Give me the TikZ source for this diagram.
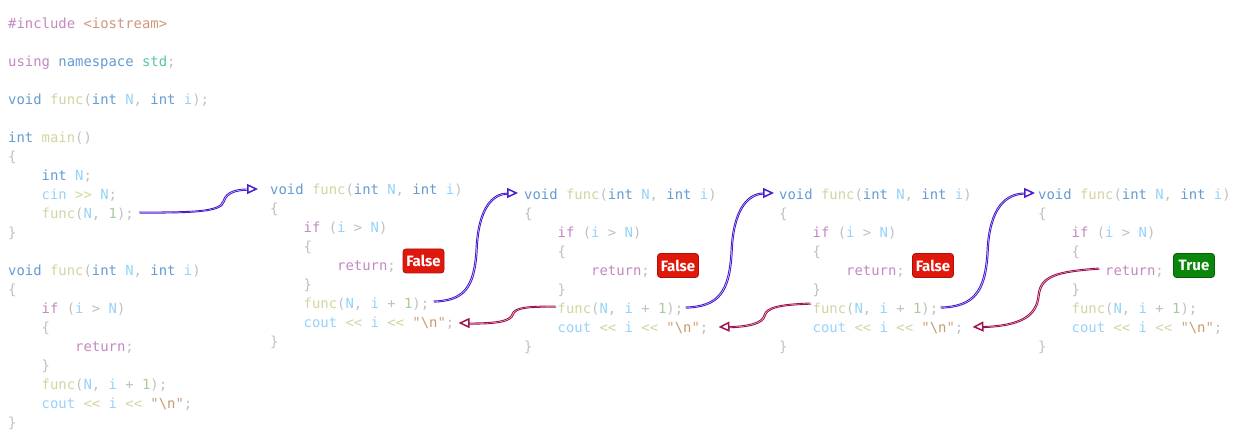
\documentclass[tikz,border=0pt]{standalone}
\usepackage{fontspec}
\setmonofont{DejaVu Sans Mono}
\newfontfamily\badgefont{Fira Sans}
\usetikzlibrary{arrows.meta,calc}
\definecolor{cpurple}{HTML}{C488C2}
\definecolor{cblue}{HTML}{659CD4}
\definecolor{cfunc}{HTML}{D4D4A2}
\definecolor{cvar}{HTML}{96D3FA}
\definecolor{cpunct}{HTML}{C0C0C0}
\definecolor{cstr}{HTML}{D69E7E}
\definecolor{cesc}{HTML}{C49C6C}
\definecolor{cnum}{HTML}{ACCA9C}
\definecolor{cteal}{HTML}{56C6AC}
\definecolor{cinc}{HTML}{D2967C}
\definecolor{arrblue}{HTML}{4A1CCF}
\definecolor{arrred}{HTML}{A01250}
\definecolor{badgered}{HTML}{E0180C}
\definecolor{badgereddk}{HTML}{B01008}
\definecolor{badgegreen}{HTML}{0A870A}
\definecolor{badgegreendk}{HTML}{066006}
\newcommand\Kp[1]{\textcolor{cpurple}{#1}}
\newcommand\Kb[1]{\textcolor{cblue}{#1}}
\newcommand\Kf[1]{\textcolor{cfunc}{#1}}
\newcommand\Kv[1]{\textcolor{cvar}{#1}}
\newcommand\Ks[1]{\textcolor{cstr}{#1}}
\newcommand\Ke[1]{\textcolor{cesc}{#1}}
\newcommand\Kn[1]{\textcolor{cnum}{#1}}
\newcommand\Kt[1]{\textcolor{cteal}{#1}}
\newcommand\Ki[1]{\textcolor{cinc}{#1}}
\tikzset{
  codeline/.style={anchor=west, inner sep=0pt, text height=14pt, text depth=0pt,
    font=\ttfamily\fontsize{13.9}{19}\selectfont, text=cpunct},
  badge/.style={rounded corners=3pt, minimum width=41pt, minimum height=24pt, inner sep=0pt,
    text=white, font=\badgefont\bfseries\fontsize{15}{15}\selectfont, line width=0.8pt},
  blueline/.style={draw=arrblue, line width=0.9pt},
  redline/.style={draw=arrred, line width=0.9pt},
}
% #1 style, #2 start, #3 c1, #4 c2, #5 mid, #6 c3, #7 c4, #8 end
\newcommand\roughcurve[8]{%
  \draw[#1,-{Triangle[open,length=11pt,width=10pt,line width=1.5pt]}] #2 .. controls #3 and #4 .. #5 .. controls #6 and #7 .. #8;
  \draw[#1,shorten >=10pt] ($#2+(0.6,1.2)$) .. controls ($#3+(1.3,1.1)$) and ($#4+(1.4,0.7)$) .. ($#5+(1.3,0.9)$) .. controls ($#6+(1.1,1.2)$) and ($#7+(0.6,1.4)$) .. ($#8+(0,1)$);
}
\newcommand\funcblock[3]{%
  \node[codeline] (#1l0) at (#2,#3) {\Kb{void} \Kf{func}(\Kb{int} \Kv{N}, \Kb{int} \Kv{i})};
  \node[codeline] (#1l1) at (#2,{#3+19}) {\{};
  \node[codeline] (#1l2) at ({#2+33.5},{#3+38}) {\Kp{if} (\Kv{i} > \Kv{N})};
  \node[codeline] (#1l3) at ({#2+33.5},{#3+57}) {\{};
  \node[codeline] (#1l4) at ({#2+67},{#3+76}) {\Kp{return};};
  \node[codeline] (#1l5) at ({#2+33.5},{#3+95}) {\}};
  \node[codeline] (#1l6) at ({#2+33.5},{#3+114}) {\Kf{func}(\Kv{N}, \Kv{i} + \Kn{1});};
  \node[codeline] (#1l7) at ({#2+33.5},{#3+133}) {\Kv{cout} \Kf{<<} \Kv{i} \Kf{<<} \Ks{"}\Ke{\textbackslash n}\Ks{"};};
  \node[codeline] (#1l8) at (#2,{#3+152}) {\}};
}
\begin{document}
\begin{tikzpicture}[x=1pt,y=-1pt]
\useasboundingbox (0,0) rectangle (1235,435);
\fill[white] (0,0) rectangle (1235,435);
% main column
\node[codeline] (L1) at (8,22) {\Kp{\#include} \Ki{<iostream>}};
\node[codeline] (L3) at (8,60) {\Kp{using} \Kb{namespace} \Kt{std};};
\node[codeline] (L5) at (8,98) {\Kb{void} \Kf{func}(\Kb{int} \Kv{N}, \Kb{int} \Kv{i});};
\node[codeline] (L7) at (8,136) {\Kb{int} \Kf{main}()};
\node[codeline] (L8) at (8,155) {\{};
\node[codeline] (L9) at (41.5,174) {\Kb{int} \Kv{N};};
\node[codeline] (L10) at (41.5,193) {\Kv{cin} \Kf{>>} \Kv{N};};
\node[codeline] (L11) at (41.5,212) {\Kf{func}(\Kv{N}, \Kn{1});};
\node[codeline] (L12) at (8,231) {\}};
\node[codeline] (L14) at (8,269) {\Kb{void} \Kf{func}(\Kb{int} \Kv{N}, \Kb{int} \Kv{i})};
\node[codeline] (L15) at (8,288) {\{};
\node[codeline] (L16) at (41.5,307) {\Kp{if} (\Kv{i} > \Kv{N})};
\node[codeline] (L17) at (41.5,326) {\{};
\node[codeline] (L18) at (75,345) {\Kp{return};};
\node[codeline] (L19) at (41.5,364) {\}};
\node[codeline] (L20) at (41.5,383) {\Kf{func}(\Kv{N}, \Kv{i} + \Kn{1});};
\node[codeline] (L21) at (41.5,402) {\Kv{cout} \Kf{<<} \Kv{i} \Kf{<<} \Ks{"}\Ke{\textbackslash n}\Ks{"};};
\node[codeline] (L22) at (8,421) {\}};
% recursion blocks
\funcblock{A}{270}{188}
\funcblock{B}{524}{193}
\funcblock{C}{779}{193}
\funcblock{D}{1038}{193}
% badges
\node[badge, fill=badgered, draw=badgereddk] (F1) at (423.5,261) {False};
\node[badge, fill=badgered, draw=badgereddk] (F2) at (678,265.5) {False};
\node[badge, fill=badgered, draw=badgereddk] (F3) at (933,265.5) {False};
\node[badge, fill=badgegreen, draw=badgegreendk] (T4) at (1194,265.5) {True};
% call arrows
\coordinate (s1) at ($(L11.east)+(5,0)$);
\coordinate (e1) at ($(Al0.west)+(-12,1)$);
\roughcurve{blueline}{(s1)}{(190,212)}{(220,212)}{(223,201)}{(226,190)}{(240,189)}{(e1)}
\coordinate (s2) at ($(Al6.east)+(4,-1)$);
\coordinate (e2) at ($(Bl0.west)+(-6,0)$);
\roughcurve{blueline}{(s2)}{(463,300)}{(474,288)}{(476,248)}{(478,208)}{(492,193)}{(e2)}
\coordinate (s3) at ($(Bl6.east)+(2,0)$);
\coordinate (e3) at ($(Cl0.west)+(-5,0)$);
\roughcurve{blueline}{(s3)}{(718,306)}{(729,292)}{(731,250)}{(733,208)}{(748,193)}{(e3)}
\coordinate (s4) at ($(Cl6.east)+(2,0)$);
\coordinate (e4) at ($(Dl0.west)+(-3,0)$);
\roughcurve{blueline}{(s4)}{(973,306)}{(985,292)}{(987,250)}{(989,208)}{(1005,193)}{(e4)}
% return arrows
\coordinate (r1s) at ($(Bl6.west)+(-2,-1)$);
\coordinate (r1e) at ($(Al7.east)+(4,2)$);
\roughcurve{redline}{(r1s)}{(528,306)}{(514,307)}{(512,314)}{(510,321)}{(495,323)}{(r1e)}
\coordinate (r2s) at ($(Cl6.west)+(-2,-4)$);
\coordinate (r2e) at ($(Bl7.east)+(10,1)$);
\roughcurve{redline}{(r2s)}{(780,304)}{(766,307)}{(764,315)}{(762,323)}{(748,326)}{(r2e)}
\coordinate (r3s) at ($(Dl4.west)+(-6,-1)$);
\coordinate (r3e) at ($(Cl7.east)+(9,1)$);
\roughcurve{redline}{(r3s)}{(1055,271)}{(1040,276)}{(1038,295)}{(1036,316)}{(1020,325)}{(r3e)}
\end{tikzpicture}
\end{document}
